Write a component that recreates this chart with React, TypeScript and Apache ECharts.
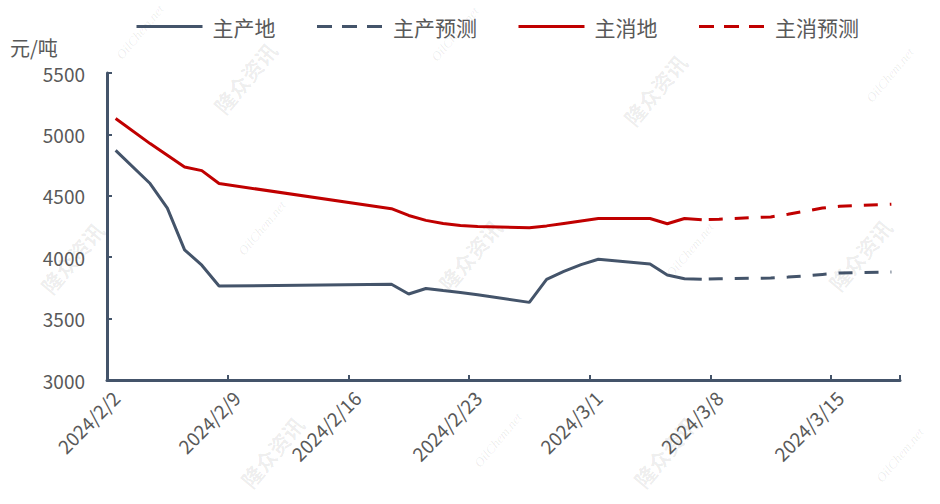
import React, { useEffect, useRef } from "react";
import * as echarts from "echarts";

// Category axis: every calendar day, 2024/2/2 .. 2024/3/18
const dates: string[] = [
  "2024/2/2", "2024/2/3", "2024/2/4", "2024/2/5", "2024/2/6", "2024/2/7", "2024/2/8",
  "2024/2/9", "2024/2/10", "2024/2/11", "2024/2/12", "2024/2/13", "2024/2/14", "2024/2/15",
  "2024/2/16", "2024/2/17", "2024/2/18", "2024/2/19", "2024/2/20", "2024/2/21", "2024/2/22",
  "2024/2/23", "2024/2/24", "2024/2/25", "2024/2/26", "2024/2/27", "2024/2/28", "2024/2/29",
  "2024/3/1", "2024/3/2", "2024/3/3", "2024/3/4", "2024/3/5", "2024/3/6", "2024/3/7",
  "2024/3/8", "2024/3/9", "2024/3/10", "2024/3/11", "2024/3/12", "2024/3/13", "2024/3/14",
  "2024/3/15", "2024/3/16", "2024/3/17", "2024/3/18",
];

const seriesNames = ["主产地", "主产预测", "主消地", "主消预测"];

// Values per date (null = no quote that day)
const producing: (number | null)[] = [
  4870, null, 4600, 4400, 4060, 3935, 3765,
  null, null, null, null, null, null, null,
  null, null, 3780, 3700, 3745, 3728, 3712,
  3695, null, null, 3632, 3820, 3885, 3940,
  3983, null, null, 3945, 3855, 3825, 3820,
  null, null, null, null, null, null, null,
  null, null, null, null,
];
const producingForecast: (number | null)[] = [
  null, null, null, null, null, null, null,
  null, null, null, null, null, null, null,
  null, null, null, null, null, null, null,
  null, null, null, null, null, null, null,
  null, null, null, null, null, null, 3820,
  3825, null, null, 3830, 3838, 3848, 3860,
  3872, null, null, 3880,
];
const consuming: (number | null)[] = [
  5130, null, 4925, 4830, 4735, 4705, 4600,
  null, null, null, null, null, null, null,
  null, null, 4395, 4340, 4300, 4275, 4258,
  4250, null, null, 4240, 4255, 4275, 4295,
  4315, null, null, 4315, 4272, 4315, 4305,
  null, null, null, null, null, null, null,
  null, null, null, null,
];
const consumingForecast: (number | null)[] = [
  null, null, null, null, null, null, null,
  null, null, null, null, null, null, null,
  null, null, null, null, null, null, null,
  null, null, null, null, null, null, null,
  null, null, null, null, null, null, 4305,
  4310, null, null, 4328, 4350, 4375, 4400,
  4415, null, null, 4432,
];

const yTicks = { min: 3000, max: 5500, interval: 500 };
const unitLabel = "元/吨";

const watermarksCN: [number, number][] = [
  [245, 78], [655, 90], [72, 258], [470, 255], [860, 255], [272, 452], [665, 452],
];
const watermarksEN: [number, number][] = [
  [140, 32], [455, 34], [890, 75], [262, 228], [690, 250], [498, 440], [900, 455],
];

const NAVY = "#44546A";
const RED = "#C00000";
const TEXT = "#595959";
const FONT = "'Noto Sans CJK SC', 'Noto Sans', sans-serif";

export default function App() {
  const ref = useRef<HTMLDivElement>(null);

  useEffect(() => {
    if (!ref.current) return;
    const chart = echarts.init(ref.current, undefined, { renderer: "svg" });
    const rot = (50 * Math.PI) / 180;
    const graphics: any[] = [
      {
        type: "text",
        left: 10,
        top: 37,
        style: { text: unitLabel, fill: TEXT, font: `20px ${FONT}` },
      },
      ...watermarksCN.map(([x, y]) => ({
        type: "text",
        x,
        y,
        rotation: rot,
        z: -10,
        silent: true,
        style: {
          text: "隆众资讯",
          fill: "rgba(0,0,0,0.08)",
          font: `bold 21px ${FONT}`,
          align: "center",
          verticalAlign: "middle",
        },
      })),
      ...watermarksEN.map(([x, y]) => ({
        type: "text",
        x,
        y,
        rotation: rot,
        z: -10,
        silent: true,
        style: {
          text: "OilChem.net",
          fill: "rgba(0,0,0,0.08)",
          font: "italic 13px 'Liberation Serif', serif",
          align: "center",
          verticalAlign: "middle",
        },
      })),
    ];

    const solid = (color: string) => ({ color, width: 3, type: "solid" as const });
    const dashed = (color: string) => ({
      color,
      width: 3,
      type: [14, 12] as any,
      dashOffset: 19,
    });
    const hiddenSymbol = { color: "rgba(0,0,0,0)", borderWidth: 0, opacity: 0 };

    chart.setOption({
      animation: false,
      textStyle: { fontFamily: FONT },
      grid: { left: 107, right: 40, top: 73, bottom: 124, containLabel: false },
      legend: {
        left: 130,
        top: 11,
        itemWidth: 66,
        itemHeight: 20,
        itemGap: 40,
        textStyle: { color: TEXT, fontSize: 21, padding: [0, 0, 0, 5], fontFamily: FONT },
        data: [
          { name: seriesNames[0], itemStyle: hiddenSymbol, lineStyle: { color: NAVY, width: 3, type: "solid" } },
          { name: seriesNames[1], itemStyle: hiddenSymbol, lineStyle: { color: NAVY, width: 3, type: [15, 10], dashOffset: 0 } },
          { name: seriesNames[2], itemStyle: hiddenSymbol, lineStyle: { color: RED, width: 3, type: "solid" } },
          { name: seriesNames[3], itemStyle: hiddenSymbol, lineStyle: { color: RED, width: 3, type: [15, 10], dashOffset: 0 } },
        ],
      },
      xAxis: {
        type: "category",
        data: dates,
        boundaryGap: true,
        axisLine: { lineStyle: { color: NAVY, width: 3 } },
        axisTick: { show: true, inside: true, length: 5, interval: 6, lineStyle: { color: NAVY, width: 2 } },
        axisLabel: { interval: 6, rotate: 45, color: TEXT, fontSize: 19, margin: 14 },
        splitLine: { show: false },
      },
      yAxis: {
        type: "value",
        min: yTicks.min,
        max: yTicks.max,
        interval: yTicks.interval,
        axisLine: { show: true, lineStyle: { color: NAVY, width: 3 } },
        axisTick: { show: true, inside: true, length: 5, lineStyle: { color: NAVY, width: 2 } },
        axisLabel: { color: TEXT, fontSize: 19, margin: 22, formatter: (v: number) => String(v) },
        splitLine: { show: false },
      },
      graphic: graphics,
      series: [
        { name: seriesNames[0], type: "line", data: producing, connectNulls: true, showSymbol: false, symbol: "none", lineStyle: solid(NAVY), itemStyle: { color: NAVY } },
        { name: seriesNames[1], type: "line", data: producingForecast, connectNulls: true, showSymbol: false, symbol: "none", lineStyle: dashed(NAVY), itemStyle: { color: NAVY } },
        { name: seriesNames[2], type: "line", data: consuming, connectNulls: true, showSymbol: false, symbol: "none", lineStyle: solid(RED), itemStyle: { color: RED } },
        { name: seriesNames[3], type: "line", data: consumingForecast, connectNulls: true, showSymbol: false, symbol: "none", lineStyle: dashed(RED), itemStyle: { color: RED } },
      ],
    });
    return () => chart.dispose();
  }, []);

  return (
    <div
      ref={ref}
      style={{ position: "fixed", left: 0, top: 0, width: 940, height: 504, background: "#fff" }}
    />
  );
}
